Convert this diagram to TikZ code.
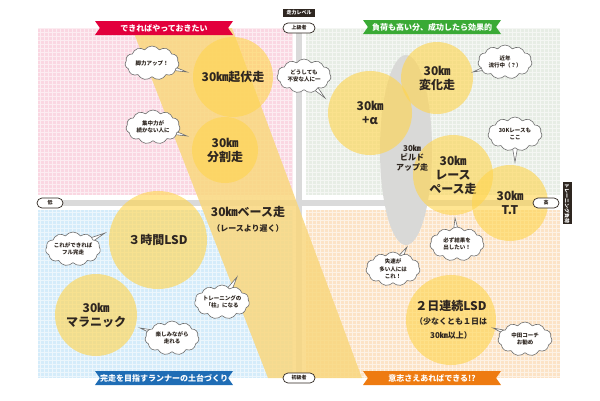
\documentclass[tikz,border=0pt]{standalone}
\usepackage{fontspec}
\setmainfont{Noto Sans CJK JP}
\usepackage{xcolor}
\usepackage{tikz}
\usetikzlibrary{shapes,positioning,calc}

\definecolor{runyellow}{HTML}{FFD54F}
\definecolor{bandyellow}{HTML}{F9D77E}
\definecolor{pinkbg}{HTML}{FAD7E2}
\definecolor{greenbg}{HTML}{E7EDE5}
\definecolor{bluebg}{HTML}{D5ECFA}
\definecolor{orangebg}{HTML}{FCE3C6}
\definecolor{axisgray}{HTML}{DADADA}
\definecolor{ellipsegray}{HTML}{D9D9D7}
\definecolor{ink}{HTML}{2E2620}
\definecolor{cloudgray}{HTML}{6E6E6E}
\definecolor{bannerred}{HTML}{E2003C}
\definecolor{bannergreen}{HTML}{3AAA35}
\definecolor{bannerblue}{HTML}{1F6DB5}
\definecolor{bannerorange}{HTML}{EE7B11}

\begin{document}
\begin{tikzpicture}[x=1pt, y=-1pt,
    run/.style={circle, fill=runyellow, fill opacity=0.62, text opacity=1, text=ink, align=center, inner sep=0pt, font=\fontsize{12}{14}\selectfont\bfseries},
    talk/.style={cloud, cloud puffs=11, cloud puff arc=110, cloud ignores aspect, draw=cloudgray, line width=0.6pt, fill=white, minimum width=54pt, minimum height=34pt, inner sep=0pt, align=center, text=ink, font=\fontsize{5.5}{7.5}\selectfont\bfseries},
    tail/.style={fill=white, draw=cloudgray, line width=0.6pt},
    banner/.style={signal, signal to=nowhere, signal from=west and east, signal pointer angle=110, minimum width=138pt, minimum height=14pt, inner sep=0pt, text=white, font=\fontsize{8}{9}\selectfont\bfseries},
    pill/.style={draw=ink, line width=0.7pt, fill=white, rounded corners=5pt, minimum width=32pt, minimum height=10pt, inner sep=0pt, text=ink, font=\fontsize{5}{5}\selectfont\bfseries},
    tag/.style={fill=ink, text=white, inner sep=0pt, font=\fontsize{5}{5}\selectfont\bfseries}
]
    \useasboundingbox (0,0) rectangle (600,400);

    % Quadrants
    \fill [pinkbg] (38,28) rectangle (293,195);
    \fill [greenbg] (306,28) rectangle (560,195);
    \fill [bluebg] (38,210) rectangle (293,378);
    \fill [orangebg] (306,210) rectangle (560,378);
    \draw [white, opacity=0.55, line width=0.5pt, step=4pt] (38,28) grid (560,378);

    % Axes
    \fill [axisgray] (296,33) rectangle (302,375);
    \fill [axisgray] (60,200) rectangle (535,206);

    % Base run band and build-up area
    \fill [bandyellow, opacity=0.85] (132,28) -- (232,28) -- (362,378) -- (268,378) -- cycle;
    \fill [ellipsegray] (406,150) ellipse [x radius=26pt, y radius=95pt];

    % Runs
    \node [run, minimum size=80pt] (kifuku) at (233,77) {30㎞起伏走};
    \node [run, minimum size=66pt] (bunkatsu) at (225,150) {30㎞\\分割走};
    \node [run, minimum size=98pt] (lsd) at (158,240) {３時間LSD};
    \node [run, minimum size=82pt] (maranic) at (96,315) {30㎞\\マラニック};
    \node [run, minimum size=84pt] (plus) at (370,113) {30㎞\\+α};
    \node [run, minimum size=72pt] (henka) at (437,78) {30㎞\\変化走};
    \node [run, minimum size=80pt] (racepace) at (453,175) {30㎞\\レース\\ペース走};
    \node [run, minimum size=76pt] (tt) at (510,203) {30㎞\\T.T};
    \node [run, minimum size=90pt] (renzoku) at (451,320) {２日連続LSD\\{\fontsize{8}{10}\selectfont （少なくとも１日は}\\{\fontsize{8}{10}\selectfont 30㎞以上）}};

    \node [text=ink, font=\fontsize{12}{14}\selectfont\bfseries] (base) at (248,212) {30㎞ベース走};
    \node [text=ink, font=\fontsize{8}{9}\selectfont\bfseries, below=0pt of base] (baseslow) {（レースより遅く）};
    \node [text=ink, align=center, font=\fontsize{8}{9.5}\selectfont\bfseries] (buildup) at (412,158) {30㎞\\ビルド\\アップ走};

    % Speech clouds
    \foreach \name/\cx/\cy/\tx/\ty/\txt in {
        leg/152/63/187/72/{脚力アップ！},
        focus/153/127/187/136/{集中力が\\続かない人に},
        worry/304/76/325/98/{どうしても\\不安な人に一},
        trend/505/62/473/72/{近年\\流行中（？）},
        race/515/134/515/162/{30Kレースも\\ここ},
        finish/73/249/105/233/{これができれば\\フル完走},
        pillar/222/302/237/277/{トレーニングの\\「柱」になる},
        fun/172/338/140/328/{楽しみながら\\走れる},
        slow/393/269/407/247/{失速が\\多い人には\\これ！},
        result/457/244/455/218/{必ず結果を\\出したい！},
        coach/525/339/493/328/{中田コーチ\\お勧め}} {
        \coordinate (\name-c) at (\cx,\cy);
        \coordinate (\name-tip) at (\tx,\ty);
        \filldraw [tail] ($(\name-c)!5pt!90:(\name-tip)$) -- (\name-tip) -- ($(\name-c)!5pt!-90:(\name-tip)$) -- cycle;
        \node [talk] (\name) at (\name-c) {\txt};
    }

    % Banners
    \node [banner, fill=bannerred] (wish) at (164,28) {できればやっておきたい};
    \node [banner, fill=bannergreen] (effect) at (432,27) {負荷も高い分、成功したら効果的};
    \node [banner, fill=bannerblue] (basis) at (164,378) {完走を目指すランナーの土台づくり};
    \node [banner, fill=bannerorange] (will) at (432,378) {意志さえあればできる!?};

    % Axis labels
    \node [tag, minimum width=32pt, minimum height=8pt] (level) at (299,13) {走力レベル};
    \node [pill] (upper) at (299,28) {上級者};
    \node [pill] (lower) at (299,378) {初級者};
    \node [pill, minimum width=26pt] (low) at (50,203) {低};
    \node [pill, minimum width=26pt] (high) at (546,203) {高};
    \node [tag, rotate=-90, minimum width=42pt, minimum height=9pt] (load) at (567,203) {トレーニング負荷};
\end{tikzpicture}
\end{document}
